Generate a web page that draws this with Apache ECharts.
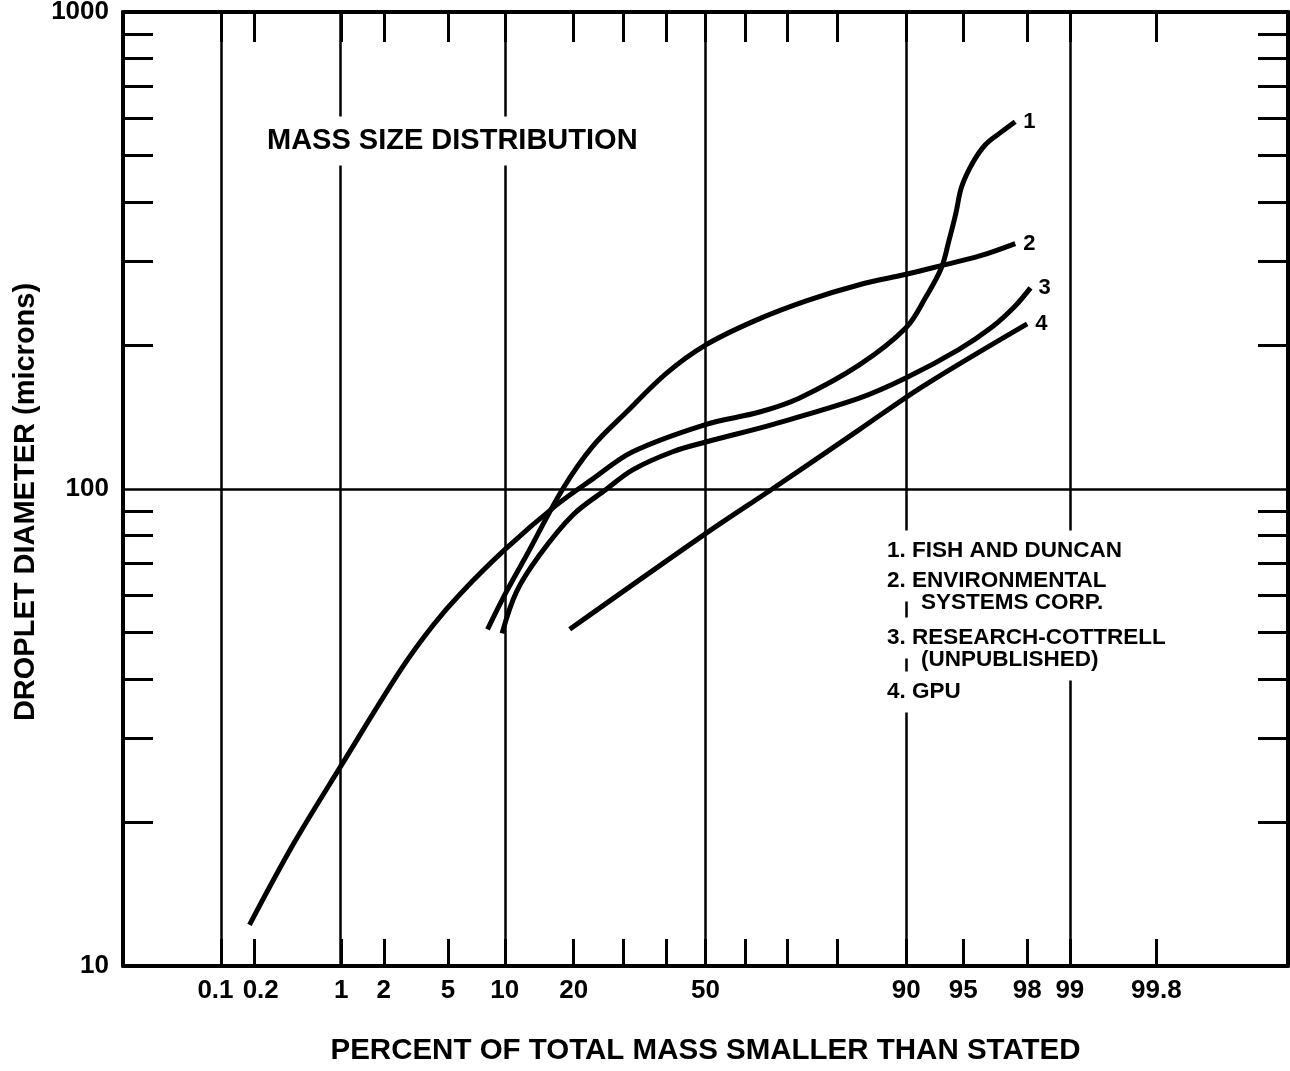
<!DOCTYPE html>
<html><head><meta charset="utf-8">
<script src="https://cdn.jsdelivr.net/npm/echarts@6/dist/echarts.min.js"></script>
<style>html,body{margin:0;padding:0;background:#fff}#c{width:1290px;height:1071px}</style>
</head><body><div id="c"></div>
<script>
// ---------- data ----------
const xRangePct = [0.01, 99.99];
const xTickLabels = ['0.1', '0.2', '1', '2', '5', '10', '20', '50', '90', '95', '98', '99', '99.8'];
const xTickPercents = [0.1, 0.2, 1, 2, 5, 10, 20, 30, 40, 50, 60, 70, 80, 90, 95, 98, 99, 99.8];
const xGridPercents = [0.1, 1, 10, 50, 90, 99];
const yRange = [10, 1000];
const yTickValues = [20, 30, 40, 50, 60, 70, 80, 90, 200, 300, 400, 500, 600, 700, 800, 900];
const yGridValues = [100];

const curveNumbers = ['1', '2', '3', '4'];
const legendLines = ['1. FISH AND DUNCAN', '2. ENVIRONMENTAL', 'SYSTEMS CORP.', '3. RESEARCH-COTTRELL', '(UNPUBLISHED)', '4. GPU'];

const fishPct = [0.18, 0.43, 1.0, 2.6, 4.1, 5.9, 10.0, 17.1, 23.6, 32.1, 50.0, 63.5, 72.5, 83.7, 90.0, 92.0, 93.4, 94.0, 94.5, 94.9, 95.6, 96.3, 97.0, 97.6];
const fishDia = [12.2, 18.1, 26.3, 41.9, 51.8, 60.4, 74.6, 92.6, 105, 119.7, 136.5, 145, 155, 182, 218, 252, 291, 332, 378, 430, 483, 527, 558, 589];

const escPct = [8.2, 10.2, 12.7, 18.1, 23.6, 30.7, 40.2, 50.3, 62.7, 74.0, 83.7, 90.0, 93.4, 96.0, 97.6];
const escDia = [50.8, 61.0, 72.8, 100, 123, 145, 175, 201, 226, 248, 268, 282, 294, 308, 327];

const rcPct = [9.7, 11.4, 14.5, 19.9, 26.4, 32.1, 41.7, 50.3, 66.5, 83.7, 90.0, 94.7, 96.6, 97.6, 98.1];
const rcDia = [49.8, 61.0, 72.8, 88.3, 100, 109.7, 119.7, 125.6, 136.5, 155, 171, 196, 218, 242, 264];

const gpuPct = [19.3, 50.3, 66.5, 83.7, 91.7, 98.0];
const gpuDia = [50.8, 80.9, 100, 133.2, 164, 222];

// ---------- probability scale (inverse normal CDF) ----------
function probit(pct) {
  const p = pct / 100;
  const a = [-3.969683028665376e+01, 2.209460984245205e+02, -2.759285104469687e+02, 1.383577518672690e+02, -3.066479806614716e+01, 2.506628277459239e+00];
  const b = [-5.447609879822406e+01, 1.615858368580409e+02, -1.556989798598866e+02, 6.680131188771972e+01, -1.328068155288572e+01];
  const c = [-7.784894002430293e-03, -3.223964580411365e-01, -2.400758277161838e+00, -2.549732539343734e+00, 4.374664141464968e+00, 2.938163982698783e+00];
  const d = [7.784695709041462e-03, 3.224671290700398e-01, 2.445134137142996e+00, 3.754408661907416e+00];
  const pl = 0.02425, ph = 1 - pl;
  let q, r;
  if (p < pl) {
    q = Math.sqrt(-2 * Math.log(p));
    return (((((c[0] * q + c[1]) * q + c[2]) * q + c[3]) * q + c[4]) * q + c[5]) / ((((d[0] * q + d[1]) * q + d[2]) * q + d[3]) * q + 1);
  }
  if (p <= ph) {
    q = p - 0.5; r = q * q;
    return (((((a[0] * r + a[1]) * r + a[2]) * r + a[3]) * r + a[4]) * r + a[5]) * q / (((((b[0] * r + b[1]) * r + b[2]) * r + b[3]) * r + b[4]) * r + 1);
  }
  q = Math.sqrt(-2 * Math.log(1 - p));
  return -(((((c[0] * q + c[1]) * q + c[2]) * q + c[3]) * q + c[4]) * q + c[5]) / ((((d[0] * q + d[1]) * q + d[2]) * q + d[3]) * q + 1);
}

const FONT = '"Liberation Sans", Arial, Helvetica, sans-serif';
const pair = (pcts, vals) => pcts.map((p, i) => [probit(p), vals[i]]);

function labelFor(v) {
  for (const l of xTickLabels) {
    if (Math.abs(probit(parseFloat(l)) - v) < 1e-6) {
      if (l === '0.1') return '{l|' + l + '}';
      if (l === '0.2') return '{r|' + l + '}';
      return l;
    }
  }
  return '';
}

const axisLineStyle = { color: '#000', width: 4 };
const tickStyle = { color: '#000', width: 3 };
const labelRich = {
  l: { fontFamily: FONT, fontWeight: 'bold', fontSize: 26, color: '#000', padding: [0, 12, 0, 0] },
  r: { fontFamily: FONT, fontWeight: 'bold', fontSize: 26, color: '#000', padding: [0, 0, 0, 12] }
};

const curveStyle = { color: '#000', width: 5 };
function curve(name, num, data) {
  return {
    type: 'line', name: name, data: data, xAxisIndex: 0, yAxisIndex: 0,
    smooth: 0.35, showSymbol: false, symbol: 'none',
    lineStyle: curveStyle, itemStyle: { color: '#000' }, z: 5, silent: true,
    endLabel: { show: true, formatter: num, color: '#000', fontFamily: FONT, fontWeight: 'bold', fontSize: 22, distance: 8 }
  };
}

const chart = echarts.init(document.getElementById('c'), null, { renderer: 'canvas' });

const legendYs = [551, 581, 603, 638, 660, 692];
const legendXs = [887, 887, 921, 887, 921, 887];
const legendFont = 'bold 22.5px ' + FONT;

// white knock-out backgrounds behind the texts (drawn first), then the texts
const legendBg = legendLines.map((t, i) => ({
  type: 'text', x: legendXs[i] - 6, y: legendYs[i], z: 99, silent: true,
  style: { text: t, font: legendFont, fill: '#fff', backgroundColor: '#fff', padding: [9, 6], align: 'left', verticalAlign: 'middle' }
}));
const legendTx = legendLines.map((t, i) => ({
  type: 'text', x: legendXs[i], y: legendYs[i], z: 101, silent: true,
  style: { text: t, font: legendFont, fill: '#000', align: 'left', verticalAlign: 'middle' }
}));

chart.setOption({
  animation: false,
  backgroundColor: '#fff',
  grid: { left: 123, right: 2, top: 12, bottom: 105, containLabel: false, outerBoundsMode: 'none' },
  xAxis: [
    {
      type: 'value', position: 'bottom', min: probit(xRangePct[0]), max: probit(xRangePct[1]),
      axisLine: { show: true, onZero: false, lineStyle: axisLineStyle },
      axisTick: { show: true, inside: true, length: 27, lineStyle: tickStyle, customValues: xTickPercents.map(probit) },
      axisLabel: { show: true, customValues: xTickLabels.map(l => probit(parseFloat(l))), formatter: labelFor, rich: labelRich,
        fontFamily: FONT, fontWeight: 'bold', fontSize: 26, color: '#000', margin: 12 },
      splitLine: { show: false },
      name: 'PERCENT OF TOTAL MASS SMALLER THAN STATED', nameLocation: 'middle', nameGap: 70,
      nameTextStyle: { fontFamily: FONT, fontWeight: 'bold', fontSize: 29.5, color: '#000' }
    },
    {
      type: 'value', position: 'top', min: probit(xRangePct[0]), max: probit(xRangePct[1]),
      axisLine: { show: true, onZero: false, lineStyle: axisLineStyle },
      axisTick: { show: true, inside: true, length: 30, lineStyle: tickStyle, customValues: xTickPercents.map(probit) },
      axisLabel: { show: false }, splitLine: { show: false }
    }
  ],
  yAxis: [
    {
      type: 'log', position: 'left', min: yRange[0], max: yRange[1], logBase: 10,
      axisLine: { show: true, onZero: false, lineStyle: axisLineStyle },
      axisTick: { show: true, inside: true, length: 30, lineStyle: tickStyle, customValues: yTickValues },
      axisLabel: { show: true, formatter: v => String(Math.round(v)), fontFamily: FONT, fontWeight: 'bold', fontSize: 26, color: '#000', margin: 14 },
      splitLine: { show: false }, minorTick: { show: false },
      name: 'DROPLET DIAMETER (microns)', nameLocation: 'middle', nameGap: 76,
      nameTextStyle: { fontFamily: FONT, fontWeight: 'bold', fontSize: 29, color: '#000', padding: [0, 26, 0, 0] }
    },
    {
      type: 'log', position: 'right', min: yRange[0], max: yRange[1], logBase: 10,
      axisLine: { show: true, onZero: false, lineStyle: axisLineStyle },
      axisTick: { show: true, inside: true, length: 30, lineStyle: tickStyle, customValues: yTickValues },
      axisLabel: { show: false }, splitLine: { show: false }
    }
  ],
  series: [
    {
      type: 'line', data: [], xAxisIndex: 0, yAxisIndex: 0, silent: true, z: 1,
      markLine: {
        silent: true, symbol: 'none', animation: false,
        label: { show: false },
        lineStyle: { color: '#000', width: 2.5, type: 'solid' },
        data: xGridPercents.map(p => ({ xAxis: probit(p) })).concat(yGridValues.map(v => ({ yAxis: v })))
      }
    },
    curve('1. FISH AND DUNCAN', curveNumbers[0], pair(fishPct, fishDia)),
    curve('2. ENVIRONMENTAL SYSTEMS CORP.', curveNumbers[1], pair(escPct, escDia)),
    curve('3. RESEARCH-COTTRELL (UNPUBLISHED)', curveNumbers[2], pair(rcPct, rcDia)),
    curve('4. GPU', curveNumbers[3], pair(gpuPct, gpuDia))
  ],
  graphic: {
    elements: [
      { type: 'text', x: 261, y: 141, z: 100, silent: true,
        style: { text: 'MASS SIZE DISTRIBUTION', font: 'bold 29px ' + FONT, fill: '#000', backgroundColor: '#fff', padding: [10, 6], align: 'left', verticalAlign: 'middle' } }
    ].concat(legendBg, legendTx)
  }
});
</script></body></html>
